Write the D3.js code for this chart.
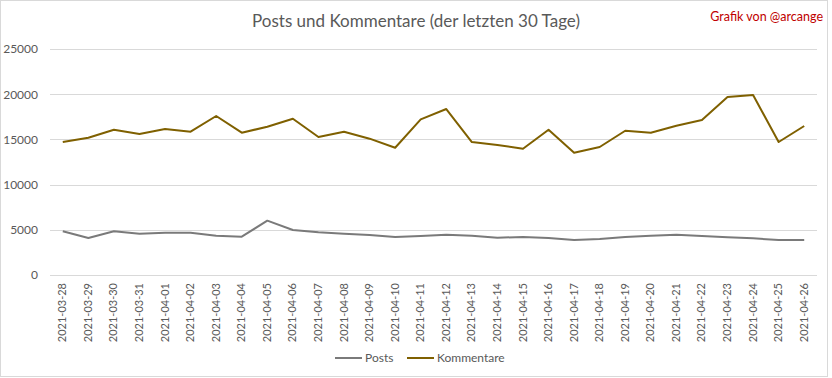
<!DOCTYPE html>
<html lang="de">
<head>
<meta charset="UTF-8">
<title>Posts und Kommentare (der letzten 30 Tage)</title>
<script src="https://cdn.jsdelivr.net/npm/d3@7"></script>
<style>
  body { margin: 0; background: #fff; font-family: Lato, "Open Sans", sans-serif; }
  .title { font-size: 17px; fill: #595959; text-anchor: middle; }
  .credit { font-size: 12.5px; fill: #c00000; text-anchor: end; }
  .tick text { fill: #595959; }
  .legend text { font-size: 12px; fill: #595959; }
</style>
</head>
<body>
<script>
const dates = ["2021-03-28","2021-03-29","2021-03-30","2021-03-31","2021-04-01","2021-04-02",
  "2021-04-03","2021-04-04","2021-04-05","2021-04-06","2021-04-07","2021-04-08","2021-04-09",
  "2021-04-10","2021-04-11","2021-04-12","2021-04-13","2021-04-14","2021-04-15","2021-04-16",
  "2021-04-17","2021-04-18","2021-04-19","2021-04-20","2021-04-21","2021-04-22","2021-04-23",
  "2021-04-24","2021-04-25","2021-04-26"];
const posts = [4830,4090,4830,4570,4680,4680,4350,4240,6010,4980,4720,4570,4420,4200,4310,
  4460,4350,4130,4200,4090,3870,3980,4200,4350,4460,4310,4170,4060,3870,3870];
const kommentare = [14710,15190,16070,15600,16150,15850,17590,15740,16400,17290,15260,15850,
  15080,14080,17220,18360,14710,14380,13970,16070,13530,14160,15960,15740,16510,17140,19690,
  19910,14710,16480];
const yTicks = [0,5000,10000,15000,20000,25000];

const W = 832, H = 378;
const plotLeft = 50, plotRight = 817, plotTop = 49, plotBottom = 275;

const svg = d3.select("body").append("svg").attr("width", W).attr("height", H);

svg.append("rect").attr("x", 0.5).attr("y", 0.5).attr("width", W - 5).attr("height", H - 2)
   .attr("fill", "#fff").attr("stroke", "#d9d9d9");

const x = d3.scaleBand().domain(dates).range([plotLeft, plotRight]).padding(0);
const y = d3.scaleLinear().domain([0, 25000]).range([plotBottom, plotTop]);
const cx = d => x(d) + x.bandwidth() / 2;

// gridlines
svg.append("g").selectAll("line").data(yTicks).enter().append("line")
   .attr("x1", plotLeft).attr("x2", plotRight)
   .attr("y1", d => Math.round(y(d)) + 0.5).attr("y2", d => Math.round(y(d)) + 0.5)
   .attr("stroke", "#d9d9d9");

// y axis labels
const ya = svg.append("g").attr("transform", `translate(${plotLeft},0)`)
   .call(d3.axisLeft(y).tickValues(yTicks).tickSize(0).tickPadding(12).tickFormat(d3.format("d")));
ya.select(".domain").remove();
ya.selectAll("text").style("font-size", "12px").style("font-family", "Lato, sans-serif");

// x axis labels
const xa = svg.append("g").attr("transform", `translate(0,${plotBottom})`)
   .call(d3.axisBottom(x).tickSize(0).tickPadding(0));
xa.select(".domain").remove();
xa.selectAll("text")
   .style("font-size", "11px").style("font-family", "Lato, sans-serif")
   .attr("text-anchor", "end").attr("dy", "0.32em")
   .attr("transform", "translate(0,8) rotate(-90)").attr("x", 0).attr("y", 0);

const line = vals => d3.line().x((d, i) => cx(dates[i])).y(d => y(d))(vals);

svg.append("path").attr("d", line(posts)).attr("fill", "none")
   .attr("stroke", "#7a7a7a").attr("stroke-width", 2).attr("stroke-linejoin", "round");
svg.append("path").attr("d", line(kommentare)).attr("fill", "none")
   .attr("stroke", "#7f6000").attr("stroke-width", 2).attr("stroke-linejoin", "round");

svg.append("text").attr("class", "title").attr("x", 416).attr("y", 27)
   .text("Posts und Kommentare (der letzten 30 Tage)");
svg.append("text").attr("class", "credit").attr("x", 823).attr("y", 21)
   .text("Grafik von @arcange");

// legend
const legend = svg.append("g").attr("class", "legend");
const items = [{name: "Posts", color: "#7a7a7a", x: 335}, {name: "Kommentare", color: "#7f6000", x: 407}];
items.forEach(it => {
  legend.append("line").attr("x1", it.x).attr("x2", it.x + 27).attr("y1", 358).attr("y2", 358)
        .attr("stroke", it.color).attr("stroke-width", 2);
  legend.append("text").attr("x", it.x + 30).attr("y", 362).text(it.name);
});
</script>
</body>
</html>
